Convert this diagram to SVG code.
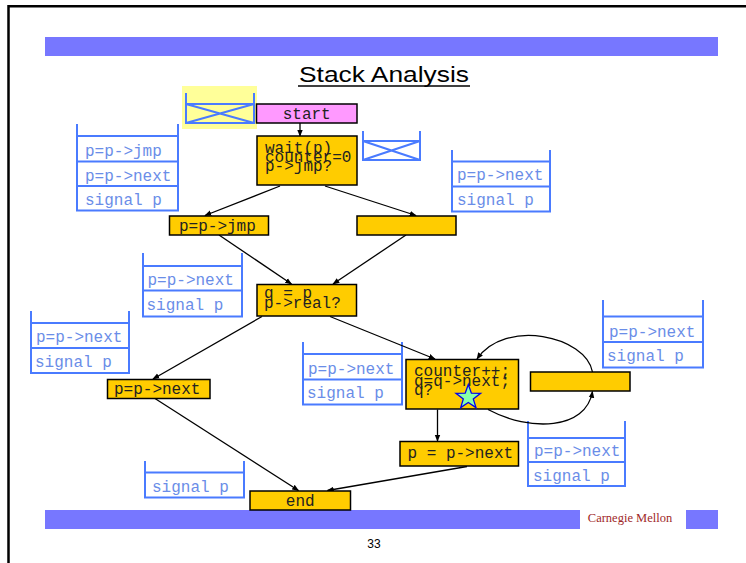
<svg xmlns="http://www.w3.org/2000/svg" width="746" height="563" viewBox="0 0 746 563">
  <style>
    .bar { fill: #7777ff; }
    .node { fill: #ffcc00; stroke: #000; stroke-width: 1.5; }
    .shadow { fill: none; stroke: #999; stroke-width: 1; }
    .ntext { font-family: "Liberation Mono", "Courier New", monospace; font-size: 16px; fill: #222; }
    .stk { fill: none; stroke: #4a7bff; stroke-width: 2; }
    .stext { font-family: "Liberation Mono", "Courier New", monospace; font-size: 16px; fill: #6a8de8; }
    .edge { fill: none; stroke: #000; stroke-width: 1.3; marker-end: url(#arr); }
  </style>
  <defs>
    <marker id="arr" viewBox="0 0 10 10" refX="9" refY="5" markerWidth="7" markerHeight="7" orient="auto" markerUnits="userSpaceOnUse">
      <path d="M0,1 L10,5 L0,9 z" fill="#000"/>
    </marker>
  </defs>

  <rect x="0" y="0" width="746" height="563" fill="#fff"/>
  <!-- page frame -->
  <path d="M8.5 563 V6.2 H746" fill="none" stroke="#000" stroke-width="2.5"/>

  <!-- header / footer bars -->
  <rect class="bar" x="45" y="37" width="673" height="19"/>
  <rect class="bar" x="45" y="510" width="535" height="19"/>
  <rect class="bar" x="686" y="510" width="32" height="19"/>
  <text x="630" y="522" font-family="Liberation Serif, serif" font-size="12.5" fill="#a02828" text-anchor="middle">Carnegie Mellon</text>
  <text x="374" y="548" font-family="Liberation Sans, sans-serif" font-size="12" fill="#000" text-anchor="middle">33</text>

  <!-- title -->
  <text x="384" y="82" font-family="Liberation Sans, sans-serif" font-size="22" fill="#000" text-anchor="middle" textLength="170" lengthAdjust="spacingAndGlyphs">Stack Analysis</text>
  <line x1="298" y1="86" x2="470" y2="86" stroke="#000" stroke-width="1.5"/>

  <!-- stacks -->
  <g id="stack-empty-a">
    <rect x="182" y="86" width="75" height="43" fill="#ffff99"/>
    <path class="stk" d="M186 93 V123 H254 V93 M186 104 H254 M186 104 L254 123 M186 123 L254 104"/>
  </g>
  <g id="stack-empty-b">
    <path class="stk" d="M363 131 V160 H420 V131 M363 141 H420 M363 141 L420 160 M363 160 L420 141"/>
  </g>
  <g id="stack-1">
    <path class="stk" d="M77 124 V210.5 H178 V124 M77 136 H178 M77 161.5 H178 M77 186 H178"/>
    <text class="stext" x="85" y="155.5">p=p-&gt;jmp</text>
    <text class="stext" x="85" y="180.5">p=p-&gt;next</text>
    <text class="stext" x="85" y="204.5">signal p</text>
  </g>
  <g id="stack-2">
    <path class="stk" d="M452 150 V211.5 H550 V150 M452 161.5 H550 M452 186.5 H550"/>
    <text class="stext" x="457" y="180">p=p-&gt;next</text>
    <text class="stext" x="457" y="204.5">signal p</text>
  </g>
  <g id="stack-3">
    <path class="stk" d="M143 253 V316.5 H242 V253 M143 266 H242 M143 290.5 H242"/>
    <text class="stext" x="147.5" y="285">p=p-&gt;next</text>
    <text class="stext" x="146.5" y="309.5">signal p</text>
  </g>
  <g id="stack-4">
    <path class="stk" d="M31 311 V373 H129 V311 M31 323 H129 M31 348 H129"/>
    <text class="stext" x="36" y="342">p=p-&gt;next</text>
    <text class="stext" x="35" y="367">signal p</text>
  </g>
  <g id="stack-5">
    <path class="stk" d="M303 342 V404.5 H402 V342 M303 354 H402 M303 379.5 H402"/>
    <text class="stext" x="308" y="373.5">p=p-&gt;next</text>
    <text class="stext" x="307" y="397.5">signal p</text>
  </g>
  <g id="stack-6">
    <path class="stk" d="M603 300 V367.5 H703 V300 M603 316.5 H703 M603 342 H703"/>
    <text class="stext" x="609" y="336.5">p=p-&gt;next</text>
    <text class="stext" x="607" y="360.5">signal p</text>
  </g>
  <g id="stack-7">
    <path class="stk" d="M528 421 V486 H625 V421 M528 438 H625 M528 462 H625"/>
    <text class="stext" x="534" y="456">p=p-&gt;next</text>
    <text class="stext" x="533" y="480.5">signal p</text>
  </g>
  <g id="stack-8">
    <path class="stk" d="M145 461 V497.5 H244 V461 M145 472.5 H244"/>
    <text class="stext" x="152" y="491.5">signal p</text>
  </g>

  <!-- connectors -->
  <g id="connectors">
    <path class="edge" d="M300 123 V136"/>
    <path class="edge" d="M280 186 L205 215.5"/>
    <path class="edge" d="M325 186 L416 215.5"/>
    <path class="edge" d="M219 235 L291.5 284"/>
    <path class="edge" d="M406 235 L333 284"/>
    <path class="edge" d="M262 316.5 L153 379"/>
    <path class="edge" d="M330 316.5 L435 359"/>
    <path class="edge" d="M592.5 372 C586 336, 505 318, 477 359"/>
    <path class="edge" d="M488 409.5 C530 432, 586 430, 592.5 391.5"/>
    <path class="edge" d="M437.5 409.5 V441"/>
    <path class="edge" d="M155 398.5 L298.5 490.5"/>
    <path class="edge" d="M467 466.5 L327.5 490.5"/>
  </g>

  <!-- nodes -->
  <g id="node-start">
    <rect x="256.5" y="104" width="100.5" height="19" fill="#ff99ff" stroke="#000" stroke-width="1.5"/>
    <text class="ntext" x="306.7" y="119" text-anchor="middle">start</text>
  </g>
  <g id="node-wait">
    <rect class="node" x="257" y="136" width="100" height="49"/>
    <text class="ntext" x="265" y="153">wait(p)</text>
    <text class="ntext" x="265" y="162">counter=0</text>
    <text class="ntext" x="265" y="171">p-&gt;jmp?</text>
  </g>
  <g id="node-jmp">
    <rect class="node" x="169.5" y="216" width="99" height="19"/>
    <text class="ntext" x="179" y="230.5">p=p-&gt;jmp</text>
  </g>
  <g id="node-empty-right">
    <rect class="node" x="357" y="216" width="99" height="19"/>
  </g>
  <g id="node-q">
    <rect class="node" x="257" y="284.5" width="99.5" height="31.5"/>
    <text class="ntext" x="264" y="298">q = p</text>
    <text class="ntext" x="264" y="307.5">p-&gt;real?</text>
  </g>
  <g id="node-next-left">
    <rect class="node" x="107.5" y="379.5" width="102.5" height="19"/>
    <text class="ntext" x="114" y="393.5">p=p-&gt;next</text>
  </g>
  <g id="node-counter">
    <rect class="node" x="406" y="359.5" width="112.5" height="49.5"/>
    <text class="ntext" x="414" y="376">counter++;</text>
    <text class="ntext" x="414" y="385.5">q=q-&gt;next;</text>
    <text class="ntext" x="414" y="394.5">q?</text>
    <polygon points="468.3,384.5 471.4,393.2 480.6,393.3 473.3,398.9 476.0,407.6 468.3,402.5 460.7,407.6 463.3,398.9 456.0,393.3 465.2,393.2" fill="#88ffaa" stroke="#0000ee" stroke-width="1.3"/>
  </g>
  <g id="node-empty-loop">
    <rect class="node" x="530.5" y="372" width="99.5" height="19"/>
  </g>
  <g id="node-next-bottom">
    <rect class="node" x="400" y="441.5" width="118.5" height="24.5"/>
    <text class="ntext" x="407.5" y="457.5">p = p-&gt;next</text>
  </g>
  <g id="node-end">
    <rect class="node" x="250" y="491" width="100.5" height="19"/>
    <text class="ntext" x="300.2" y="505.5" text-anchor="middle">end</text>
  </g>
</svg>
